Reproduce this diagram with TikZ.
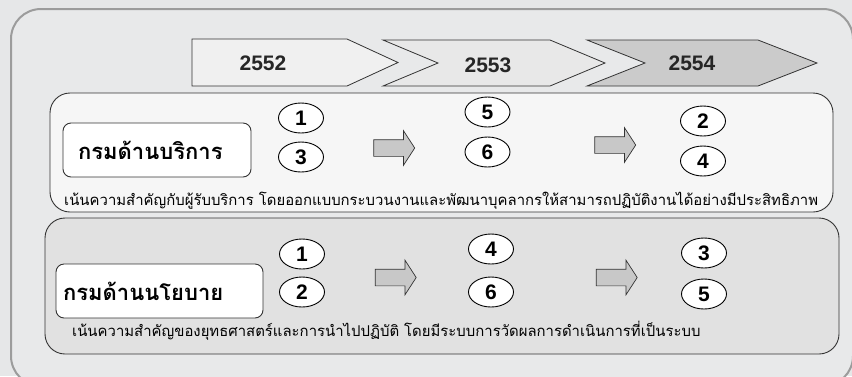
\documentclass[tikz,border=0pt]{standalone}
\usepackage{fontspec}
\setmainfont{Liberation Sans}
\newfontfamily\thaifont[Script=Thai]{Loma}
\usetikzlibrary{shapes.geometric,shapes.arrows}
\definecolor{bgc}{HTML}{E6E7E8}
\definecolor{innerc}{HTML}{E8E9EA}
\definecolor{outerc}{HTML}{9C9C9C}
\definecolor{edgec}{HTML}{333333}
\definecolor{chA}{HTML}{F0F0F0}
\definecolor{chB}{HTML}{E8E8E8}
\definecolor{chC}{HTML}{CBCBCB}
\definecolor{boxA}{HTML}{F6F6F6}
\definecolor{boxB}{HTML}{E1E1E1}
\definecolor{arrc}{HTML}{C8C8C8}
\tikzset{
  chev/.style={draw=edgec, line width=0.8pt},
  yeartxt/.style={font=\fontsize{21}{23}\selectfont\bfseries, text=black!85, inner sep=0pt},
  panel/.style={draw=edgec, line width=0.9pt, rounded corners=20pt},
  labelbox/.style={draw=edgec, line width=0.9pt, fill=white, rounded corners=8pt, minimum height=54pt, align=left, inner ysep=0pt, font=\thaifont\fontsize{22}{24}\selectfont\bfseries},
  num/.style={ellipse, draw=black, line width=0.9pt, fill=white, minimum width=45pt, minimum height=30pt, inner sep=0pt, font=\fontsize{21}{22}\selectfont\bfseries},
  flow/.style={single arrow, draw=edgec, line width=0.7pt, fill=arrc, minimum height=41pt, single arrow head extend=9pt, single arrow tip angle=114, inner xsep=0pt, inner ysep=8pt},
  body/.style={anchor=west, inner sep=0pt, font=\thaifont\fontsize{14.9}{17}\selectfont}
}
\begin{document}
\begin{tikzpicture}[x=1pt,y=-1pt]
\useasboundingbox (0,0) rectangle (852,376);
\fill[bgc] (0,0) rectangle (852,376);
\begin{scope}
\clip (0,0) rectangle (852,376);
\draw[outerc, line width=2pt, fill=innerc, rounded corners=30pt] (11,9) rectangle (853,386);
\end{scope}
% chevrons
\draw[chev, fill=chA] (192,39) -- (347,39) -- (398,62.5) -- (347,86) -- (192,86) -- cycle;
\draw[chev, fill=chB] (383,40) -- (550,40) -- (605,63) -- (550,86) -- (383,86) -- (438,63) -- cycle;
\draw[chev, fill=chC] (587,40) -- (758,40) -- (817,63) -- (758,86) -- (587,86) -- (645,63) -- cycle;
\node[yeartxt] (y1) at (263,63) {2552};
\node[yeartxt] (y2) at (488,65) {2553};
\node[yeartxt] (y3) at (692,63) {2554};
% panels
\draw[panel, fill=boxA] (50,93) rectangle (833,212);
\draw[panel, fill=boxB] (45,218) rectangle (839,354);
% panel 1
\node[labelbox, text width=158pt, inner xsep=15pt] (lab1) at (157,150) {กรมด้านบริการ};
\node[num] (p1a) at (301,118) {1};
\node[num] (p1b) at (301,157) {3};
\node[num] (p1c) at (487.5,112) {5};
\node[num] (p1d) at (487.5,152) {6};
\node[num] (p1e) at (703,121) {2};
\node[num] (p1f) at (703,161) {4};
\node[flow] (a1) at (391.5,148) {};
\node[flow] (a2) at (612.5,145) {};
\node[body] (t1) at (64,201) {เน้นความสำคัญกับผู้รับบริการ โดยออกแบบกระบวนงานและพัฒนาบุคลากรให้สามารถปฏิบัติงานได้อย่างมีประสิทธิภาพ};
% panel 2
\node[labelbox, text width=193pt, inner xsep=7pt] (lab2) at (159.5,291) {กรมด้านนโยบาย};
\node[num] (p2a) at (302,254) {1};
\node[num] (p2b) at (302,292) {2};
\node[num] (p2c) at (491,249) {4};
\node[num] (p2d) at (491,292) {6};
\node[num] (p2e) at (704,253) {3};
\node[num] (p2f) at (704,294) {5};
\node[flow] (a3) at (393,277.5) {};
\node[flow] (a4) at (614,277.5) {};
\node[body] (t2) at (72,331) {เน้นความสำคัญของยุทธศาสตร์และการนำไปปฏิบัติ โดยมีระบบการวัดผลการดำเนินการที่เป็นระบบ};
\end{tikzpicture}
\end{document}
